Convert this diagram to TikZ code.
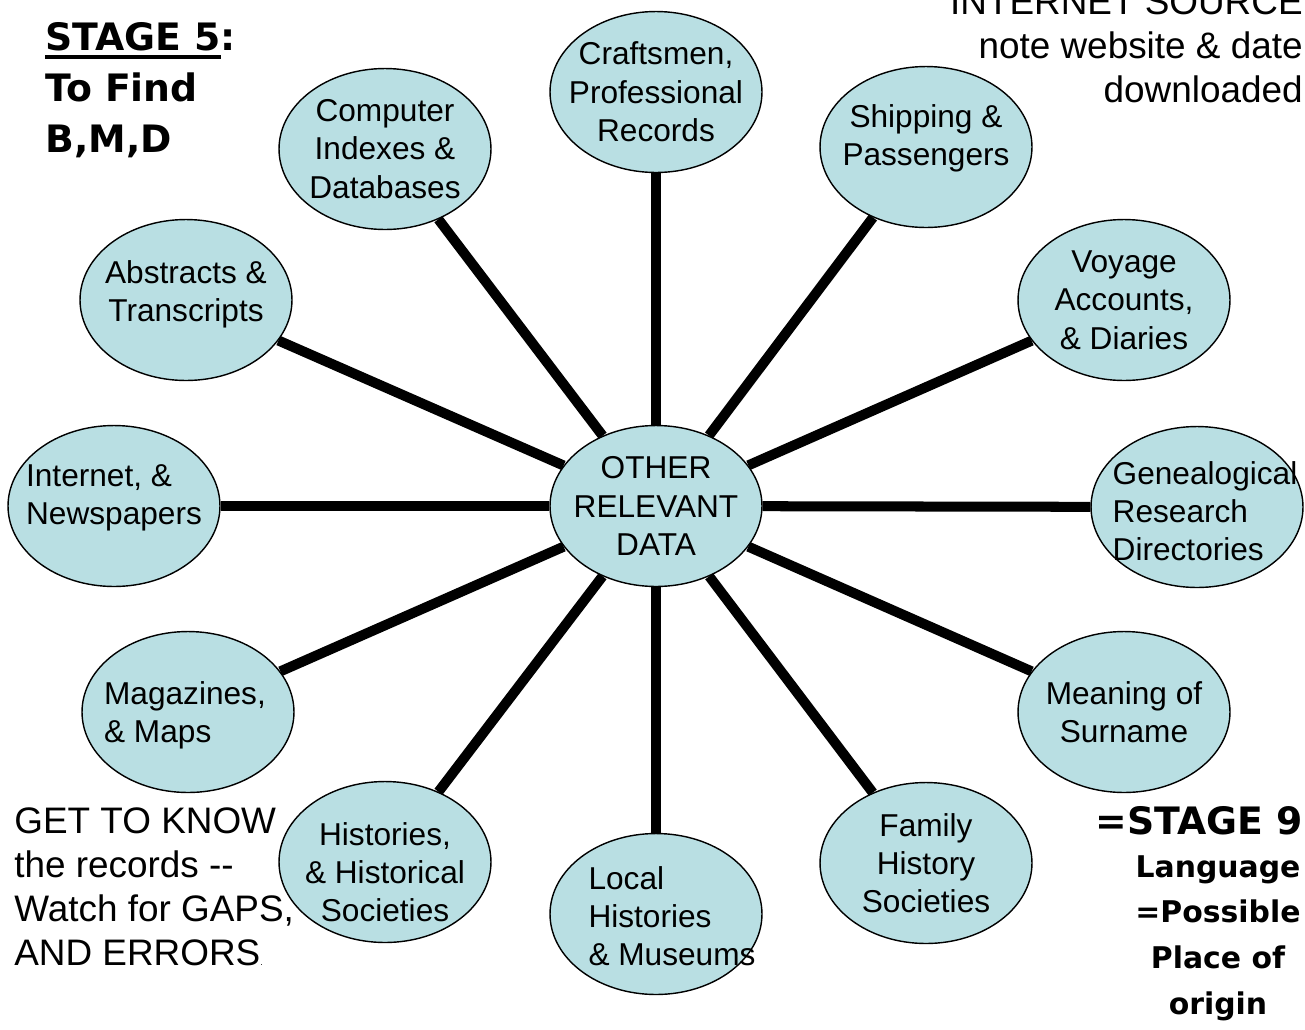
\documentclass[tikz,border=0pt]{standalone}
\usepackage{fontspec}
\setmainfont{Liberation Sans}
\newfontfamily\comicfont{DejaVu Sans}
\usetikzlibrary{shapes.geometric}
\definecolor{bubblefill}{RGB}{185,223,227}
\newcommand{\stageline}[1]{\vtop{\hbox{#1}\kern2.6pt\hrule height 2.2pt}}

\begin{document}
\begin{tikzpicture}[x=0.02cm,y=-0.02cm,
  bubble/.style={ellipse,draw,line width=0.8pt,fill=bubblefill,minimum width=4.24cm,minimum height=3.22cm,inner sep=0pt},
  bubbletext/.style={inner sep=0pt,align=center,font=\fontsize{18}{21.8}\selectfont},
  spoke/.style={line width=5.7pt},
  note/.style={inner sep=0pt,font=\fontsize{21}{25.2}\selectfont},
  stage/.style={inner sep=0pt,font=\comicfont\bfseries\fontsize{21.5}{29}\selectfont}]
\useasboundingbox (0,0) rectangle (1305,1029);

\node[bubble,label={[bubbletext]center:{OTHER\\RELEVANT\\DATA}}] (data) at (656,506) {};

\node[bubble,label={[bubbletext]center:{Craftsmen,\\Professional\\Records}}] (craft) at (656,92) {};
\node[bubble,label={[bubbletext]center:{Computer\\Indexes \&\\Databases}}] (computer) at (385,149) {};
\node[bubble,label={[bubbletext,yshift=0.18cm]center:{Shipping \&\\Passengers}}] (shipping) at (926,147) {};
\node[bubble,label={[bubbletext,yshift=0.12cm]center:{Abstracts \&\\Transcripts}}] (abstracts) at (186,300) {};
\node[bubble,label={[bubbletext]center:{Voyage\\Accounts,\\\& Diaries}}] (voyage) at (1124,300) {};
\node[bubble,label={[bubbletext,align=left,yshift=0.16cm]center:{Internet, \&\\Newspapers}}] (internet) at (114,506) {};
\node[bubble,label={[bubbletext,align=left,xshift=0.16cm,yshift=-0.08cm]center:{Genealogical\\Research\\Directories}}] (genealogy) at (1197,507) {};
\node[bubble,label={[bubbletext,align=left,xshift=-0.06cm,yshift=-0.06cm]center:{Magazines,\\\& Maps}}] (magazines) at (188,712) {};
\node[bubble,label={[bubbletext]center:{Meaning of\\Surname}}] (surname) at (1124,712) {};
\node[bubble,label={[bubbletext,yshift=-0.2cm]center:{Histories,\\\& Historical\\Societies}}] (histories) at (385,862) {};
\node[bubble,label={[bubbletext,align=left,xshift=0.32cm,yshift=-0.04cm]center:{Local\\Histories\\\& Museums}}] (local) at (656,914) {};
\node[bubble,label={[bubbletext]center:{Family\\History\\Societies}}] (family) at (926,863) {};

\draw[spoke] (data) to (craft);
\draw[spoke] (data) to (computer);
\draw[spoke] (data) to (shipping);
\draw[spoke] (data) to (abstracts);
\draw[spoke] (data) to (voyage);
\draw[spoke] (data) to (internet);
\draw[spoke] (data) to (genealogy);
\draw[spoke] (data) to (magazines);
\draw[spoke] (data) to (surname);
\draw[spoke] (data) to (histories);
\draw[spoke] (data) to (local);
\draw[spoke] (data) to (family);

% side notes
\node[stage,align=left,anchor=north west] (stage5) at (45,22) {\stageline{STAGE 5}:\\To Find\\B,M,D};
\node[note,align=right,anchor=north east] (source) at (1303,-12) {INTERNET SOURCE\\note website \& date\\downloaded};
\node[note,align=left,anchor=north west] (records) at (14,807) {GET TO KNOW\\the records -{}-\\Watch for GAPS,\\AND ERRORS{\tiny.}};
\node[stage,anchor=base east] (stage9) at (1303,834) {=STAGE 9};
\node[stage,align=center,anchor=north,font=\comicfont\bfseries\fontsize{17}{26}\selectfont] (origin) at (1218,855) {Language\\=Possible\\Place of\\origin};
\end{tikzpicture}
\end{document}
